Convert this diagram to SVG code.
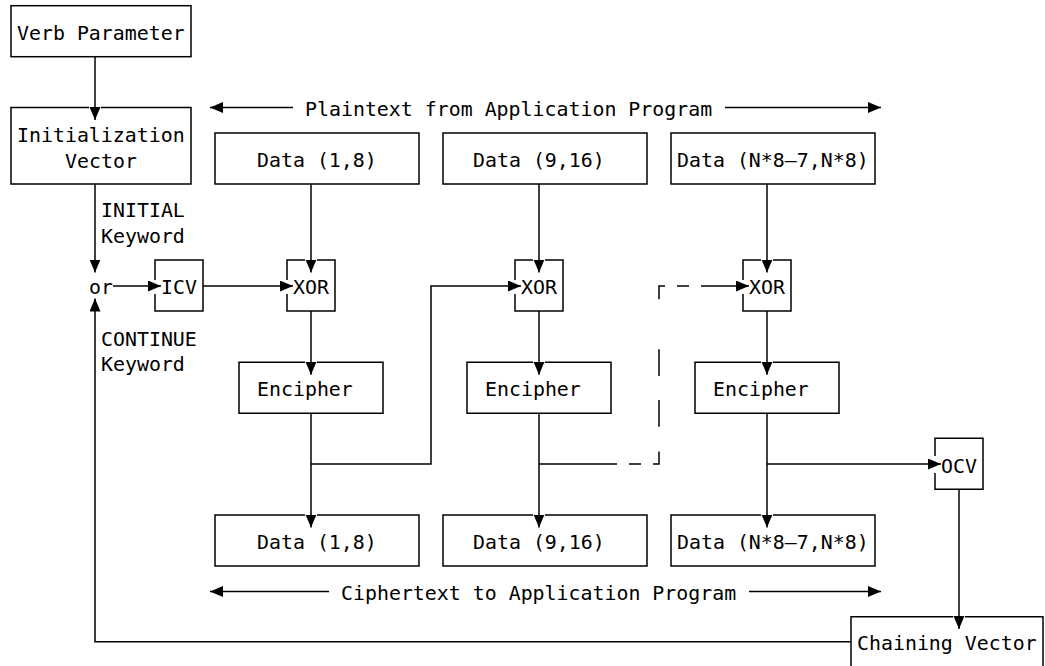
<svg xmlns="http://www.w3.org/2000/svg" width="1045" height="666" viewBox="0 0 1045 666">
<style>
  .t { font-family: "DejaVu Sans Mono", "Liberation Mono", monospace; font-size: 19.9px; fill: #000; }
  .b { fill: none; stroke: #000; stroke-width: 1.5; }
  .c { fill: none; stroke: #000; stroke-width: 1.5; }
  .a { marker-end: url(#ah); }
</style>
<defs>
  <marker id="ah" markerUnits="userSpaceOnUse" markerWidth="14" markerHeight="12" refX="13" refY="5.5" orient="auto">
    <path d="M0,0 L13,5.5 L0,11 z" fill="#000"/>
  </marker>
</defs>
<rect width="1045" height="666" fill="#fff"/>

<g id="verb-parameter">
  <rect class="b" x="11" y="5.7" width="180" height="51"/>
  <text class="t" x="17" y="39.7">Verb Parameter</text>
</g>
<g id="initialization-vector">
  <path class="b" d="M89 107.5 H11 V184 H191 V107.5 H101"/>
  <text class="t" x="17" y="141.5">Initialization</text>
  <text class="t" x="65" y="167.5">Vector</text>
</g>
<g id="plaintext-label">
  <text class="t" x="305" y="116">Plaintext from Application Program</text>
</g>
<g id="data-in-1">
  <rect class="b" x="215" y="133" width="204" height="51"/>
  <text class="t" x="257" y="167">Data (1,8)</text>
</g>
<g id="data-in-2">
  <rect class="b" x="443" y="133" width="204" height="51"/>
  <text class="t" x="473" y="167">Data (9,16)</text>
</g>
<g id="data-in-n">
  <rect class="b" x="671" y="133" width="204" height="51"/>
  <text class="t" x="677" y="167">Data (N*8–7,N*8)</text>
</g>
<g id="initial-keyword">
  <text class="t" x="101" y="217">INITIAL</text>
  <text class="t" x="101" y="243">Keyword</text>
</g>
<g id="or">
  <text class="t" x="89" y="294.3">or</text>
</g>
<g id="continue-keyword">
  <text class="t" x="101" y="345.5">CONTINUE</text>
  <text class="t" x="101" y="371">Keyword</text>
</g>
<g id="icv">
  <path class="b" d="M155 280 V260 H203 V311 H155 V294"/>
  <text class="t" x="161" y="294.3">ICV</text>
</g>
<g id="xor-1">
  <path class="b" d="M287 280 V260 H305 M317 260 H335 V311 H287 V294"/>
  <text class="t" x="293" y="294.3">XOR</text>
</g>
<g id="xor-2">
  <path class="b" d="M515 280 V260 H533 M545 260 H563 V311 H515 V294"/>
  <text class="t" x="521" y="294.3">XOR</text>
</g>
<g id="xor-n">
  <path class="b" d="M743 280 V260 H761 M773 260 H791 V311 H743 V294"/>
  <text class="t" x="749" y="294.3">XOR</text>
</g>
<g id="encipher-1">
  <path class="b" d="M305 362.3 H239 V413.3 H383 V362.3 H317"/>
  <text class="t" x="257" y="396">Encipher</text>
</g>
<g id="encipher-2">
  <path class="b" d="M533 362.3 H467 V413.3 H611 V362.3 H545"/>
  <text class="t" x="485" y="396">Encipher</text>
</g>
<g id="encipher-n">
  <path class="b" d="M761 362.3 H695 V413.3 H839 V362.3 H773"/>
  <text class="t" x="713" y="396">Encipher</text>
</g>
<g id="ocv">
  <path class="b" d="M935 456 V438.3 H983 V489.3 H935 V473"/>
  <text class="t" x="941" y="472.5">OCV</text>
</g>
<g id="data-out-1">
  <path class="b" d="M305 515 H215 V566 H419 V515 H317"/>
  <text class="t" x="257" y="549">Data (1,8)</text>
</g>
<g id="data-out-2">
  <path class="b" d="M533 515 H443 V566 H647 V515 H545"/>
  <text class="t" x="473" y="549">Data (9,16)</text>
</g>
<g id="data-out-n">
  <path class="b" d="M761 515 H671 V566 H875 V515 H773"/>
  <text class="t" x="677" y="549">Data (N*8–7,N*8)</text>
</g>
<g id="ciphertext-label">
  <text class="t" x="341" y="599.5">Ciphertext to Application Program</text>
</g>
<g id="chaining-vector">
  <path class="b" d="M851 670 V616.7 H953 M965 616.7 H1043 V670"/>
  <text class="t" x="857" y="650">Chaining Vector</text>
</g>

<g id="connectors">
  <path class="c a" d="M95 56.7 V120"/>
  <path class="c a" d="M95 184 V272.5"/>
  <path class="c a" d="M113 286 H161"/>
  <path class="c a" d="M203 286 H293"/>
  <path class="c a" d="M293 107.5 H210"/>
  <path class="c a" d="M725 107.5 H881"/>
  <path class="c a" d="M329 591.5 H210"/>
  <path class="c a" d="M749 591.5 H881"/>

  <path class="c a" d="M311 184 V272.5"/>
  <path class="c a" d="M311 311 V374.8"/>
  <path class="c a" d="M311 413.3 V527.5"/>
  <path class="c a" d="M311 464 H431 V286 H521"/>

  <path class="c a" d="M539 184 V272.5"/>
  <path class="c a" d="M539 311 V374.8"/>
  <path class="c a" d="M539 413.3 V527.5"/>
  <path class="c" d="M539 464 H617"/>
  <path class="c" d="M629 464 H641"/>
  <path class="c" d="M653 464 H659 V451.5"/>
  <path class="c" d="M659 400 V426.7"/>
  <path class="c" d="M659 349.3 V376"/>
  <path class="c" d="M659 299.3 V286 H665"/>
  <path class="c" d="M677 286 H689"/>
  <path class="c a" d="M701 286 H749"/>

  <path class="c a" d="M767 184 V272.5"/>
  <path class="c a" d="M767 311 V374.8"/>
  <path class="c a" d="M767 413.3 V527.5"/>
  <path class="c a" d="M767 464 H941"/>
  <path class="c a" d="M959 489.3 V629"/>
  <path class="c a" d="M851 641.7 H95 V298.5"/>
</g>
</svg>
